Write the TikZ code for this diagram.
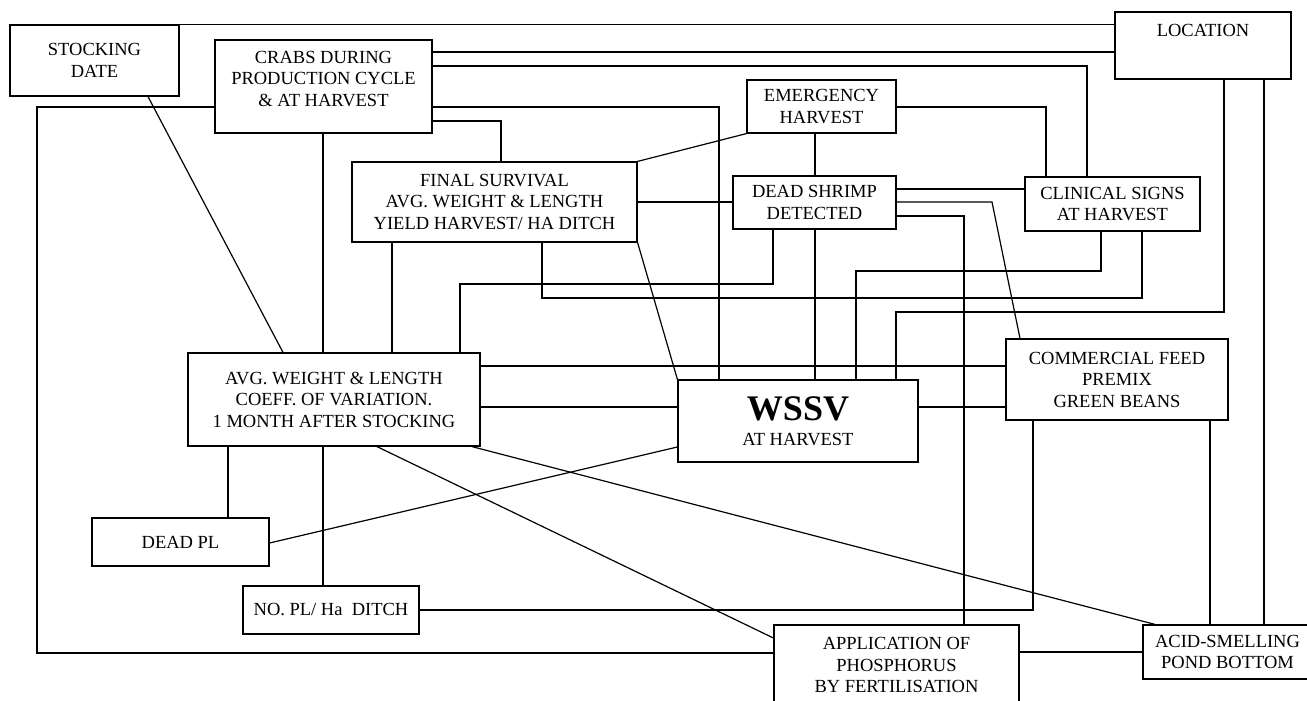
\documentclass[tikz,border=0pt]{standalone}
\usepackage{fontspec}
\setmainfont{Liberation Serif}
\usepackage{tikz}

\begin{document}
\begin{tikzpicture}[
  x=1pt, y=-1pt,
  font=\fontsize{18.5}{21.5}\selectfont,
  line width=1.2pt,
  unitBox/.style 2 args={draw, minimum width=#1pt, minimum height=#2pt, inner sep=0pt, align=center},
  linkLine/.style={draw, line width=1.2pt}
]
  \useasboundingbox (0,0) rectangle (1307,701);

  % factor boxes
  \node [unitBox={169}{71}] (stock) at (94.5,60.5) {STOCKING\\DATE};
  \node [unitBox={217}{93}, label={[yshift=7.5pt, align=center]center:CRABS DURING\\PRODUCTION CYCLE\\\& AT HARVEST}] (crabs) at (323.5,86.5) {};
  \node [unitBox={176}{67}, label={[yshift=15.5pt]center:LOCATION}] (location) at (1203,45.5) {};
  \node [unitBox={149}{53}] (emerg) at (821.5,106.5) {EMERGENCY\\HARVEST};
  \node [unitBox={285}{80}] (final) at (494.5,202) {FINAL SURVIVAL\\AVG. WEIGHT \& LENGTH\\YIELD HARVEST/ HA DITCH};
  \node [unitBox={163}{53}] (dshrimp) at (814.5,202.5) {DEAD SHRIMP\\DETECTED};
  \node [unitBox={175}{54}] (clinical) at (1112.5,204) {CLINICAL SIGNS\\AT HARVEST};
  \node [unitBox={292}{93}] (avg) at (334,399.5) {AVG. WEIGHT \& LENGTH\\COEFF. OF VARIATION.\\1 MONTH AFTER STOCKING};
  \node [unitBox={240}{82}] (wssv) at (798,421) {{\fontsize{36}{36}\selectfont\bfseries WSSV}\\[3.5pt]AT HARVEST};
  \node [unitBox={222}{81}] (comm) at (1117,379.5) {COMMERCIAL FEED\\PREMIX\\GREEN BEANS};
  \node [unitBox={177}{48}] (deadpl) at (180.5,542) {DEAD PL};
  \node [unitBox={176}{48}] (nopl) at (331,610) {NO. PL/ Ha~~DITCH};
  \node [unitBox={245}{80}] (appl) at (896.5,665) {APPLICATION OF\\PHOSPHORUS\\BY FERTILISATION};
  \node [unitBox={169}{54}] (acid) at (1227.5,652) {ACID-SMELLING\\POND BOTTOM};

  % links
  \draw [linkLine] (stock.north east) -- (location.west |- stock.north east);
  \draw [linkLine] (crabs.east |- 0,52) -- (location.west |- 0,52);
  \draw [linkLine] (crabs.east |- 0,66) -| (1087,0 |- clinical.north);
  \draw [linkLine] (crabs.east |- 0,107) -| (719,0 |- wssv.north);
  \draw [linkLine] (crabs.east |- 0,121) -| (501,0 |- final.north);
  \draw [linkLine] (323,0 |- crabs.south) -- (323,0 |- avg.north);
  \draw [linkLine] (323,0 |- avg.south) -- (323,0 |- nopl.north);
  \draw [linkLine] (crabs.west |- 0,107) -- (37,107) -- (37,653) -- (appl.west |- 0,653);
  \draw [linkLine] (148,0 |- stock.south) -- (283,0 |- avg.north);
  \draw [linkLine] (392,0 |- final.south) -- (392,0 |- avg.north);
  \draw [linkLine] (228,0 |- avg.south) -- (228,0 |- deadpl.north);
  \draw [linkLine] (deadpl.east |- 0,543) -- (wssv.west |- 0,447);
  \draw [linkLine] (avg.east |- 0,407) -- (wssv.west |- 0,407);
  \draw [linkLine] (avg.east |- 0,366) -- (comm.west |- 0,366);
  \draw [linkLine] (wssv.east |- 0,407) -- (comm.west |- 0,407);
  \draw [linkLine] (final.north east) -- (emerg.south west);
  \draw [linkLine] (emerg.east |- 0,107) -| (1046,0 |- clinical.north);
  \draw [linkLine] (815,0 |- emerg.south) -- (815,0 |- dshrimp.north);
  \draw [linkLine] (815,0 |- dshrimp.south) -- (815,0 |- wssv.north);
  \draw [linkLine] (final.east |- 0,202) -- (dshrimp.west |- 0,202);
  \draw [linkLine] (dshrimp.east |- 0,189) -- (clinical.west |- 0,189);
  \draw [linkLine] (dshrimp.east |- 0,202) -- (992,202) -- (1020,0 |- comm.north);
  \draw [linkLine] (dshrimp.east |- 0,216) -| (964,0 |- appl.north);
  \draw [linkLine] (773,0 |- dshrimp.south) -- (773,284) -| (460,0 |- avg.north);
  \draw [linkLine] (542,0 |- final.south) -- (542,298) -| (1142,0 |- clinical.south);
  \draw [linkLine] (1101,0 |- clinical.south) -- (1101,271) -| (856,0 |- wssv.north);
  \draw [linkLine] (1224,0 |- location.south) -- (1224,312) -| (896,0 |- wssv.north);
  \draw [linkLine] (1264,0 |- location.south) -- (1264,0 |- acid.north);
  \draw [linkLine] (1033,0 |- comm.south) |- (nopl.east);
  \draw [linkLine] (1210,0 |- comm.south) -- (1210,0 |- acid.north);
  \draw [linkLine] (appl.east |- 0,652) -- (acid.west |- 0,652);
  \draw [linkLine] (377,0 |- avg.south) -- (appl.west |- 0,638);
  \draw [linkLine] (472,0 |- avg.south) -- (1155,0 |- acid.north);
  \draw [linkLine] (final.south east) -- (wssv.north west);
\end{tikzpicture}
\end{document}
